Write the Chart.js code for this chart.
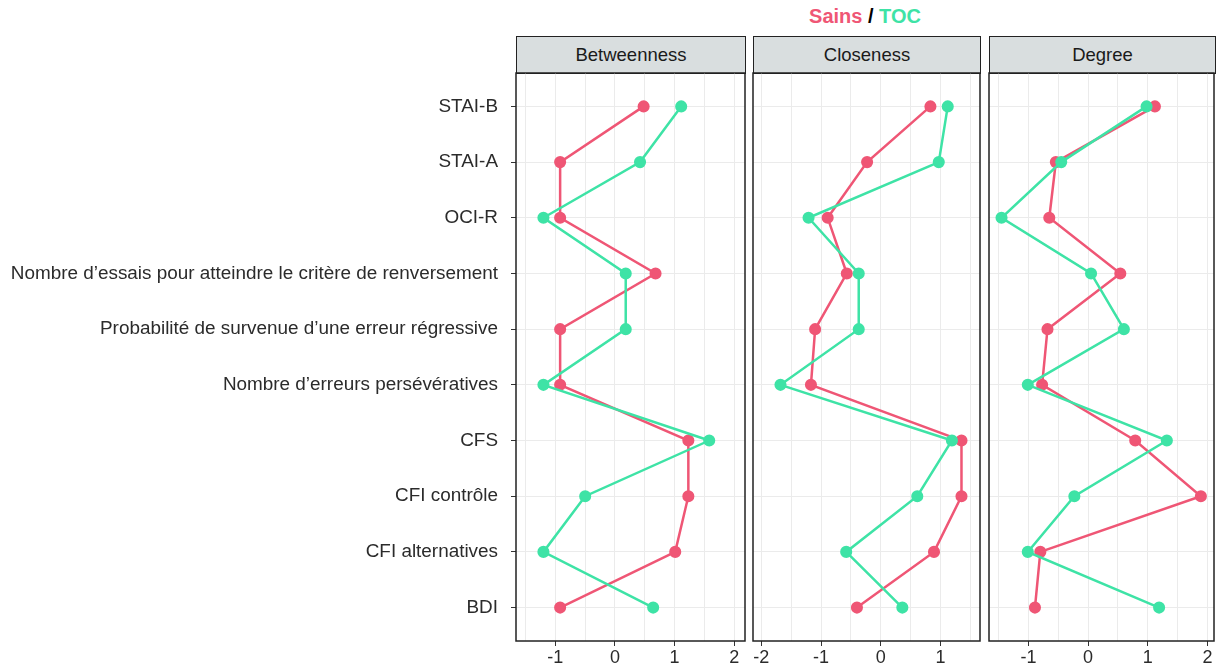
<!DOCTYPE html>
<html>
<head>
<meta charset="utf-8">
<script src="https://cdn.jsdelivr.net/npm/chart.js@4/dist/chart.umd.min.js"></script>
<style>
  body { margin: 0; background: #fff; font-family: "Liberation Sans", Arial, sans-serif; }
  #wrap { position: relative; width: 1217px; height: 670px; overflow: hidden; }
  .box { position: absolute; top: 63px; height: 607px; }
  .strip { position: absolute; top: 36px; height: 38px; background: #d9dedf; border: 1.5px solid #222;
           box-sizing: border-box; text-align: center; line-height: 35px; font-size: 18.5px; color: #1a1a1a; }
  #title { position: absolute; top: 5px; left: 516px; width: 698px; text-align: center; font-weight: bold; font-size: 20px; }
</style>
</head>
<body>
<div id="wrap">
  <div id="title"><span style="color:#ef5675">Sains</span> / <span style="color:#3ee3a6">TOC</span></div>
  <div class="strip" style="left:516px;width:230px">Betweenness</div>
  <div class="strip" style="left:753px;width:228px">Closeness</div>
  <div class="strip" style="left:989px;width:227px">Degree</div>
  <div class="box" style="left:0;width:750px"><canvas id="c1"></canvas></div>
  <div class="box" style="left:748px;width:237px"><canvas id="c2"></canvas></div>
  <div class="box" style="left:984px;width:233px"><canvas id="c3"></canvas></div>
</div>
<script>
var variables = ['STAI-B', 'STAI-A', 'OCI-R',
  'Nombre d\u2019essais pour atteindre le crit\u00e8re de renversement',
  'Probabilit\u00e9 de survenue d\u2019une erreur r\u00e9gressive',
  'Nombre d\u2019erreurs pers\u00e9v\u00e9ratives',
  'CFS', 'CFI contr\u00f4le', 'CFI alternatives', 'BDI'];

var betweennessSains = [0.48, -0.92, -0.92, 0.68, -0.92, -0.92, 1.23, 1.23, 1.01, -0.92];
var betweennessTOC   = [1.11, 0.42, -1.2, 0.18, 0.18, -1.2, 1.58, -0.5, -1.2, 0.64];
var closenessSains   = [0.83, -0.23, -0.89, -0.57, -1.10, -1.17, 1.35, 1.35, 0.89, -0.40];
var closenessTOC     = [1.12, 0.97, -1.21, -0.37, -0.37, -1.68, 1.19, 0.61, -0.58, 0.36];
var degreeSains      = [1.12, -0.54, -0.65, 0.54, -0.68, -0.77, 0.79, 1.89, -0.80, -0.89];
var degreeTOC        = [0.98, -0.45, -1.45, 0.05, 0.60, -1.01, 1.32, -0.23, -1.01, 1.19];

var pink = '#ef5675';
var green = '#3ee3a6';

var borderPlugin = {
  id: 'panelBorder',
  afterDraw: function(chart){
    var a = chart.chartArea, ctx = chart.ctx;
    ctx.save();
    ctx.strokeStyle = '#222';
    ctx.lineWidth = 1.5;
    ctx.strokeRect(a.left, a.top, a.right - a.left, a.bottom - a.top);
    ctx.restore();
  }
};

function toPoints(values){
  return values.map(function(v, i){ return {x: v, y: i}; });
}

function makePanel(id, sains, toc, xmin, xmax, showLabels, pad){
  var ctx = document.getElementById(id).getContext('2d');
  return new Chart(ctx, {
    type: 'scatter',
    data: {
      datasets: [
        { label: 'TOC', data: toPoints(toc), showLine: true, borderColor: green, backgroundColor: green,
          borderWidth: 2.5, pointRadius: 4.8, pointHoverRadius: 4.8 },
        { label: 'Sains', data: toPoints(sains), showLine: true, borderColor: pink, backgroundColor: pink,
          borderWidth: 2.5, pointRadius: 4.8, pointHoverRadius: 4.8 }
      ]
    },
    options: {
      responsive: true,
      maintainAspectRatio: false,
      animation: false,
      layout: { padding: pad, autoPadding: false },
      plugins: { legend: { display: false }, tooltip: { enabled: false } },
      scales: {
        x: {
          type: 'linear', min: xmin, max: xmax,
          afterFit: function(s){ s.height = 29; s.paddingLeft = 0; s.paddingRight = 0; },
          border: { display: false },
          grid: {
            color: '#ebebeb', lineWidth: 1, tickLength: 5,
            tickColor: function(c){ return Number.isInteger(c.tick.value) ? '#333' : 'rgba(0,0,0,0)'; }
          },
          ticks: {
            stepSize: 0.5, includeBounds: false, maxRotation: 0, autoSkip: false,
            color: '#2b2b2b', font: { family: 'Liberation Sans', size: 18 }, padding: 1,
            callback: function(v){ return Number.isInteger(v) ? String(v) : ''; }
          }
        },
        y: {
          type: 'linear', min: -0.6, max: 9.6, reverse: true,
          afterFit: function(s){ s.width = showLabels ? 516 : 0; s.paddingTop = 0; s.paddingBottom = 0; },
          afterBuildTicks: function(s){ s.ticks = variables.map(function(v, i){ return {value: i}; }); },
          border: { display: false },
          grid: { color: '#ebebeb', lineWidth: 1, drawTicks: showLabels, tickLength: 5, tickColor: '#333' },
          ticks: {
            display: showLabels, autoSkip: false,
            color: '#2b2b2b', font: { family: 'Liberation Sans', size: 18.9 }, padding: 13,
            callback: function(v){ return variables[v]; }
          }
        }
      }
    },
    plugins: [borderPlugin]
  });
}

makePanel('c1', betweennessSains, betweennessTOC, -1.66, 2.18, true, {top: 10, right: 5, left: 0, bottom: 0});
makePanel('c2', closenessSains, closenessTOC, -2.14, 1.66, false, {top: 10, right: 5, left: 5, bottom: 0});
makePanel('c3', degreeSains, degreeTOC, -1.66, 2.11, false, {top: 10, right: 3, left: 5, bottom: 0});
</script>
</body>
</html>
